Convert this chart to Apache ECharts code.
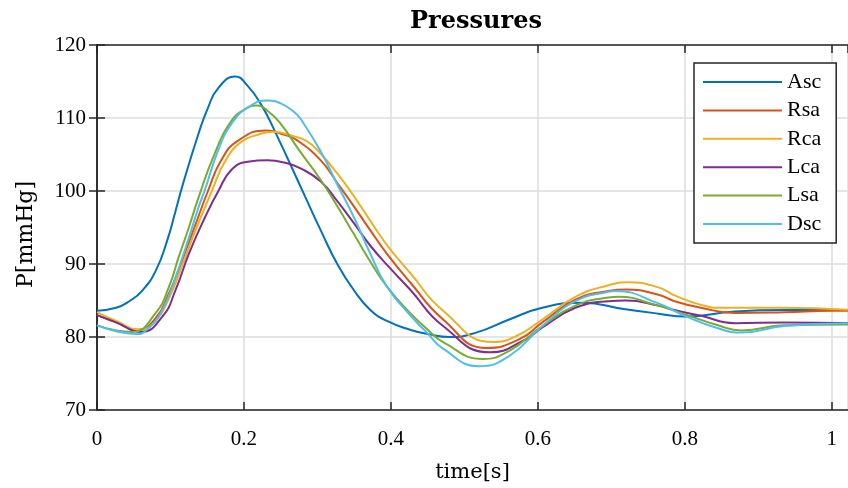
<!DOCTYPE html>
<html>
<head>
<meta charset="utf-8">
<script src="https://cdn.jsdelivr.net/npm/echarts@6/dist/echarts.min.js"></script>
<style>
  html, body { margin: 0; padding: 0; background: #ffffff; }
  #chart { width: 848px; height: 488px; }
</style>
</head>
<body>
<div id="chart"></div>
<script>
// Pressure curves, sampled at each site: time [s] and pressure [mmHg]
const ascT = [0, 0.026, 0.044, 0.062, 0.080, 0.0955, 0.107, 0.118, 0.138, 0.151, 0.165, 0.188,
  0.205, 0.223, 0.2415, 0.282, 0.3045, 0.327, 0.3496, 0.372, 0.3946, 0.426, 0.45, 0.48,
  0.516, 0.561, 0.606, 0.66, 0.719, 0.764, 0.8, 0.868, 0.935, 1.025];
const ascP = [83.6, 84.0, 84.9, 86.4, 89.1, 93.2, 97.3, 101.3, 107.8, 111.4, 114.1, 115.7,
  114.4, 111.9, 108.3, 99.5, 94.6, 90.0, 86.4, 83.7, 82.2, 81.0, 80.4, 80.0,
  80.6, 82.4, 84.0, 84.7, 83.8, 83.2, 82.8, 83.5, 83.7, 83.7];

const rsaT = [0, 0.026, 0.055, 0.08, 0.098, 0.116, 0.134, 0.151, 0.169, 0.192, 0.23,
  0.255, 0.273, 0.3045, 0.327, 0.3496, 0.372, 0.3946, 0.426, 0.471, 0.53,
  0.575, 0.606, 0.651, 0.696, 0.72, 0.764, 0.786, 0.822, 0.868, 0.935, 1.0, 1.025];
const rsaP = [83.0, 82.0, 81.0, 82.6, 86.0, 90.5, 95.4, 100.0, 104.2, 106.9, 108.3,
  107.7, 106.9, 104.2, 101.1, 97.9, 94.6, 91.4, 87.5, 82.4, 78.5,
  79.7, 82.0, 85.1, 86.3, 86.5, 85.8, 84.9, 84.0, 83.3, 83.4, 83.6, 83.6];

const rcaT = [0, 0.026, 0.058, 0.08, 0.098, 0.116, 0.134, 0.156, 0.174, 0.196, 0.219, 0.24,
  0.264, 0.286, 0.3045, 0.327, 0.3496, 0.372, 0.3946, 0.426, 0.471, 0.539,
  0.570, 0.606, 0.651, 0.696, 0.723, 0.764, 0.786, 0.822, 0.849, 0.93, 1.025];
const rcaP = [83.4, 82.2, 81.0, 82.2, 85.3, 89.8, 94.6, 99.9, 104.0, 106.7, 107.7, 108.1,
  107.6, 106.8, 105.1, 102.4, 99.3, 95.9, 92.6, 88.8, 83.6, 79.3,
  80.1, 82.4, 85.5, 87.1, 87.5, 86.8, 85.7, 84.4, 84.0, 84.0, 83.7];

const lcaT = [0, 0.026, 0.06, 0.089, 0.107, 0.125, 0.147, 0.165, 0.183, 0.205, 0.232,
  0.255, 0.277, 0.3045, 0.327, 0.3496, 0.372, 0.4, 0.426, 0.471, 0.535,
  0.584, 0.606, 0.651, 0.696, 0.72, 0.764, 0.786, 0.822, 0.868, 0.935, 1.025];
const lcaP = [83.0, 82.0, 80.7, 82.8, 86.45, 91.4, 96.4, 99.96, 102.9, 104.0, 104.2,
  103.9, 103.1, 101.3, 98.6, 95.6, 92.5, 89.3, 86.5, 81.5, 77.9,
  79.7, 81.3, 84.0, 84.9, 85.0, 84.3, 83.7, 82.9, 81.9, 82.0, 81.9];

const lsaT = [0, 0.026, 0.048, 0.08, 0.098, 0.111, 0.125, 0.138, 0.16, 0.183, 0.201, 0.217,
  0.232, 0.25, 0.275, 0.3045, 0.327, 0.3496, 0.372, 0.3946, 0.426, 0.449, 0.471, 0.525,
  0.561, 0.606, 0.651, 0.696, 0.71, 0.76, 0.8, 0.845, 0.877, 0.935, 1.025];
const lsaP = [81.6, 80.9, 80.7, 83.3, 86.9, 90.9, 95.0, 99.05, 105.1, 109.6, 111.2, 111.7,
  111.0, 109.2, 105.6, 101.5, 97.9, 94.1, 90.3, 86.9, 83.3, 81.1, 79.3, 77.0,
  78.1, 81.5, 84.3, 85.4, 85.5, 84.4, 83.1, 81.6, 80.9, 81.6, 81.7];

const dscT = [0, 0.026, 0.054, 0.071, 0.089, 0.107, 0.125, 0.138, 0.147, 0.165, 0.183, 0.205,
  0.232, 0.25, 0.2685, 0.277, 0.3045, 0.327, 0.3496, 0.372, 0.3946, 0.426, 0.449, 0.471, 0.52,
  0.561, 0.606, 0.651, 0.696, 0.705, 0.764, 0.8, 0.845, 0.877, 0.935, 1.025];
const dscP = [81.6, 80.8, 80.4, 81.3, 83.7, 88.2, 93.6, 97.7, 100.2, 105.6, 109.2, 111.4,
  112.4, 112.0, 110.8, 109.9, 105.4, 100.9, 96.4, 91.4, 86.9, 83.0, 80.6, 78.4, 76.0,
  77.4, 81.5, 84.9, 86.2, 86.3, 84.6, 82.9, 81.2, 80.6, 81.5, 81.9];

const seriesNames = ['Asc', 'Rsa', 'Rca', 'Lca', 'Lsa', 'Dsc'];
const seriesTimes = [ascT, rsaT, rcaT, lcaT, lsaT, dscT];
const seriesValues = [ascP, rsaP, rcaP, lcaP, lsaP, dscP];
const colors = ['#0072BD', '#D95319', '#EDB120', '#7E2F8E', '#77AC30', '#4DBEEE'];

const xTicks = [0, 0.2, 0.4, 0.6, 0.8, 1];
const yTicks = [70, 80, 90, 100, 110, 120];

const axisColor = '#262626';
const gridColor = '#dcdcdc';
const tickFont = 'Liberation Serif';
const labelFont = 'DejaVu Serif';

const chart = echarts.init(document.getElementById('chart'), null, { renderer: 'canvas' });

function pairs(ts, vals) {
  return ts.map((t, i) => [t, vals[i]]);
}

const frameLine = { show: true, lineStyle: { color: axisColor, width: 1.5 } };
const frameTick = { show: true, inside: true, length: 8, lineStyle: { color: axisColor, width: 1.5 } };

const option = {
  backgroundColor: '#ffffff',
  animation: false,
  title: {
    text: 'Pressures',
    left: 471,
    top: 5,
    textAlign: 'center',
    textStyle: { fontFamily: labelFont, fontWeight: 'bold', fontSize: 24, color: '#000000' }
  },
  grid: { left: 97, top: 45, width: 758, height: 370, containLabel: false },
  legend: {
    data: seriesNames,
    orient: 'vertical',
    left: 694,
    top: 63,
    itemWidth: 79,
    itemHeight: 20,
    itemGap: 6.4,
    padding: [8, 15, 8, 8],
    borderColor: axisColor,
    borderWidth: 1.5,
    backgroundColor: '#ffffff',
    itemStyle: { opacity: 0 },
    textStyle: { fontFamily: tickFont, fontSize: 22, color: '#000000' }
  },
  xAxis: [{
    type: 'value',
    min: 0,
    max: 1.022,
    interval: 0.2,
    name: 'time[s]',
    nameLocation: 'middle',
    nameGap: 52,
    nameTextStyle: { fontFamily: labelFont, fontSize: 21, color: '#000000' },
    axisLine: frameLine,
    axisTick: frameTick,
    axisLabel: {
      showMaxLabel: false,
      margin: 19,
      fontFamily: tickFont, fontSize: 21, color: '#000000',
      formatter: v => (xTicks.indexOf(+v.toFixed(6)) >= 0 ? String(+v.toFixed(6)) : '')
    },
    splitLine: { show: true, lineStyle: { color: gridColor, width: 1.5 } }
  }, {
    type: 'value',
    position: 'top',
    min: 0,
    max: 1.022,
    interval: 0.2,
    axisLine: frameLine,
    axisTick: frameTick,
    axisLabel: { show: false },
    splitLine: { show: false }
  }],
  yAxis: [{
    type: 'value',
    min: yTicks[0],
    max: yTicks[yTicks.length - 1],
    interval: 10,
    name: 'P[mmHg]',
    nameLocation: 'middle',
    nameGap: 60,
    nameTextStyle: { fontFamily: labelFont, fontSize: 22, color: '#000000', padding: [0, 14, 0, 0] },
    axisLine: frameLine,
    axisTick: frameTick,
    axisLabel: { margin: 11, fontFamily: tickFont, fontSize: 21, color: '#000000' },
    splitLine: { show: true, lineStyle: { color: gridColor, width: 1.5 } }
  }, {
    type: 'value',
    position: 'right',
    min: yTicks[0],
    max: yTicks[yTicks.length - 1],
    interval: 10,
    axisLine: frameLine,
    axisTick: frameTick,
    axisLabel: { show: false },
    splitLine: { show: false }
  }],
  series: seriesNames.map((name, k) => ({
    name: name,
    type: 'line',
    xAxisIndex: 0,
    yAxisIndex: 0,
    data: pairs(seriesTimes[k], seriesValues[k]),
    smooth: 0.5,
    symbol: 'none',
    clip: true,
    color: colors[k],
    lineStyle: { color: colors[k], width: 2 }
  }))
};

chart.setOption(option);
</script>
</body>
</html>
